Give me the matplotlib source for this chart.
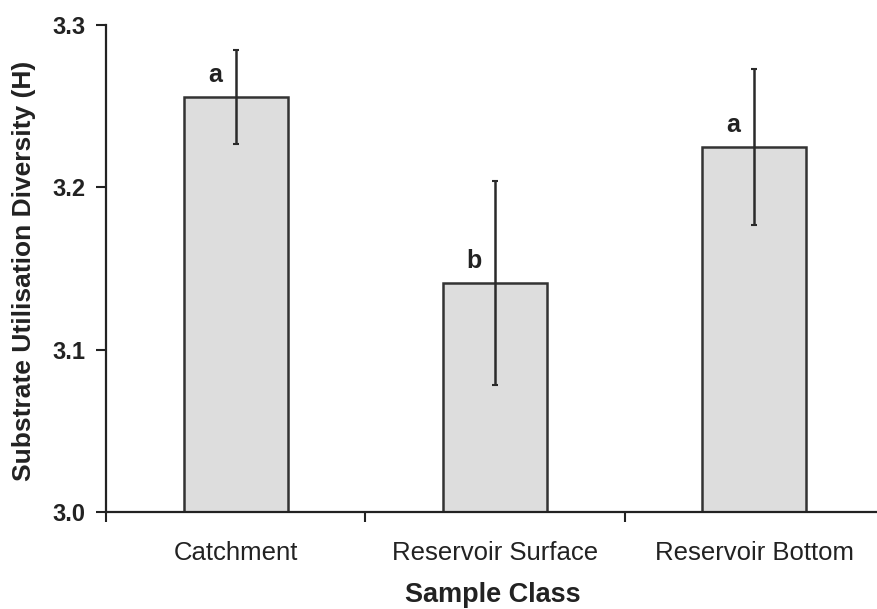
import matplotlib
matplotlib.use("Agg")
import matplotlib.pyplot as plt
import numpy as np

categories = ["Catchment", "Reservoir Surface", "Reservoir Bottom"]
means = [3.2557, 3.1411, 3.2249]
errors = [0.029, 0.063, 0.048]
letters = ["a", "b", "a"]
yticks = [3.0, 3.1, 3.2, 3.3]

plt.rcParams['font.family'] = ['Liberation Sans', 'DejaVu Sans']

W, H = 878, 609
fig = plt.figure(figsize=(W / 100, H / 100), dpi=100)
left, right, top, bottom = 106, 884, 25, 512
ax = fig.add_axes([left / W, 1 - bottom / H, (right - left) / W, (bottom - top) / H])

x = np.arange(len(categories))
ax.bar(x, means, width=0.40, color="#dddddd", edgecolor="#333333", linewidth=1.8, zorder=2)
ax.errorbar(x, means, yerr=errors, fmt="none", ecolor="#2a2a2a", elinewidth=1.8,
            capsize=2.5, capthick=1.5, zorder=3)

for xi, m, e, lab in zip(x, means, errors, letters):
    ax.annotate(lab, xy=(xi, m), xytext=(-15, 11), textcoords="offset points",
                ha="center", va="baseline", fontsize=18, fontweight="bold", color="#222222")

ax.set_xlim(-0.5, 2.5)
ax.set_ylim(3.0, 3.3)
ax.set_yticks(yticks)
ax.set_yticklabels([f"{v:.1f}" for v in yticks], fontsize=17, fontweight="bold", color="#222222")
ax.set_xticks(x)
ax.set_xticklabels(categories, fontsize=18.5, color="#222222")
ax.set_xticks([-0.5, 0.5, 1.5], minor=True)
ax.tick_params(axis="x", which="major", length=0, pad=21)
ax.tick_params(axis="x", which="minor", length=7, width=1.5, direction="out", color="#222222")
ax.tick_params(axis="y", which="major", length=7, width=1.5, direction="out", pad=8, color="#222222")

for s in ["top", "right"]:
    ax.spines[s].set_visible(False)
for s in ["left", "bottom"]:
    ax.spines[s].set_linewidth(1.6)
    ax.spines[s].set_color("#222222")

fig.text(493 / W, 1 - 602 / H, "Sample Class", ha="center", va="baseline",
         fontsize=19.5, fontweight="bold", color="#222222")
fig.text(24 / W, 1 - 271 / H, "Substrate Utilisation Diversity (H)", rotation=90,
         ha="center", va="center", fontsize=19, fontweight="bold", color="#222222")

fig.savefig("out.png", dpi=100)
